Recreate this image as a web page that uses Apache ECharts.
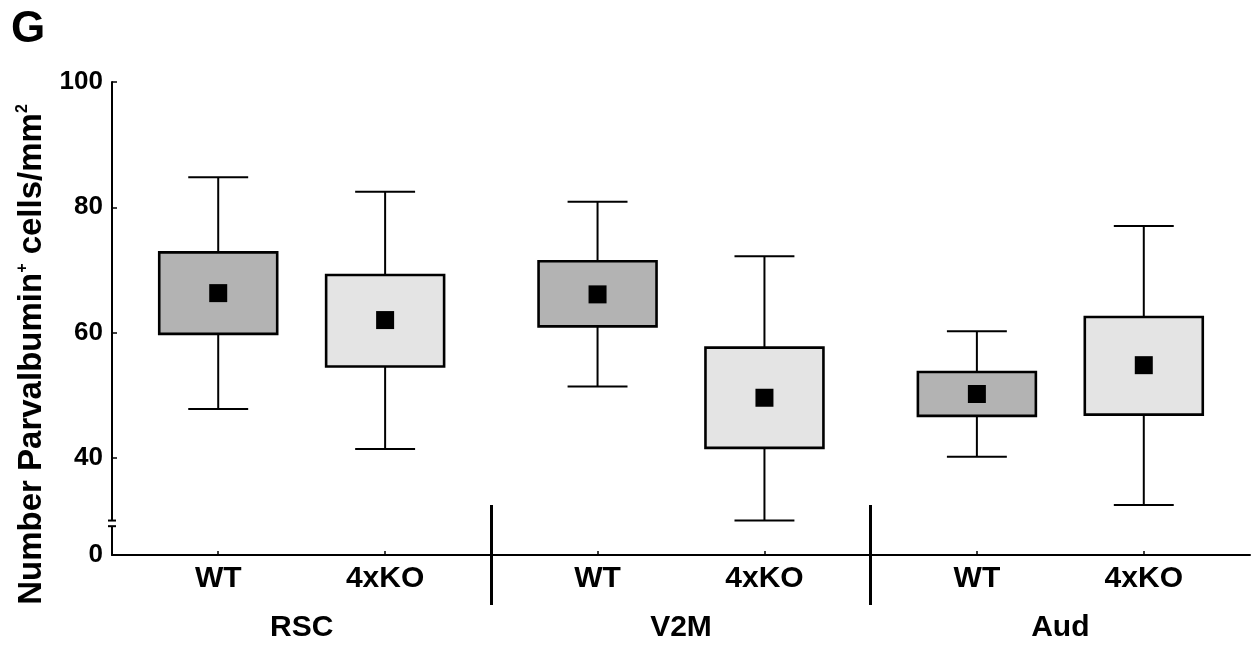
<!DOCTYPE html>
<html>
<head>
<meta charset="utf-8">
<script src="https://cdn.jsdelivr.net/npm/echarts@6/dist/echarts.min.js"></script>
<style>
  html, body { margin: 0; padding: 0; background: #fff; }
  #chart { width: 1252px; height: 645px; }
</style>
</head>
<body>
<div id="chart"></div>
<script>
// regions on the x axis, two genotypes each
const regions = ['RSC', 'V2M', 'Aud']
const genotypes = ['WT', '4xKO']

// box stats: whisker low, box low, mean, box high, whisker high
const wtMin = [47.8, 51.4, 40.2]
const wtLow = [59.8, 61.0, 46.7]
const wtMean = [66.3, 66.1, 50.2]
const wtHigh = [72.8, 71.4, 53.7]
const wtMax = [84.8, 80.9, 60.2]

const koMin = [41.4, 30.0, 32.5]
const koLow = [54.6, 41.6, 46.9]
const koMean = [62.0, 49.6, 54.8]
const koHigh = [69.2, 57.6, 62.5]
const koMax = [82.5, 72.2, 77.0]

// y axis: truncated, bottom of the axis is labelled 0
const yTicks = [40, 60, 80, 100]
const yBottom = 24.5
const breakRange = [29.1, 30.0]

// where each genotype sits inside its region slot (slot = 1 unit wide)
const slotOffset = [0.28, 0.72]
const boxWidth = 0.311
const capWidth = 0.158
const meanSize = 18

const font = 'Liberation Sans, Arial, sans-serif'
const fills = ['#b3b3b3', '#e4e4e4']

const stats = [
  [wtMin, wtLow, wtMean, wtHigh, wtMax],
  [koMin, koLow, koMean, koHigh, koMax],
]

function seriesData(g) {
  const s = stats[g]
  return regions.map((r, i) => [i + slotOffset[g], s[0][i], s[1][i], s[2][i], s[3][i], s[4][i]])
}

function renderBox(fill) {
  return function (params, api) {
    const x = api.value(0)
    const lo = api.coord([x, api.value(1)])
    const q1 = api.coord([x, api.value(2)])
    const mean = api.coord([x, api.value(3)])
    const q3 = api.coord([x, api.value(4)])
    const hi = api.coord([x, api.value(5)])
    const bw = api.size([boxWidth, 0])[0]
    const cw = api.size([capWidth, 0])[0]
    const cx = lo[0]
    const whisker = { stroke: '#000', lineWidth: 2 }
    return {
      type: 'group',
      children: [
        { type: 'line', shape: { x1: cx, y1: hi[1], x2: cx, y2: q3[1] }, style: whisker },
        { type: 'line', shape: { x1: cx, y1: q1[1], x2: cx, y2: lo[1] }, style: whisker },
        { type: 'line', shape: { x1: cx - cw / 2, y1: hi[1], x2: cx + cw / 2, y2: hi[1] }, style: whisker },
        { type: 'line', shape: { x1: cx - cw / 2, y1: lo[1], x2: cx + cw / 2, y2: lo[1] }, style: whisker },
        {
          type: 'rect',
          shape: { x: cx - bw / 2, y: q3[1], width: bw, height: q1[1] - q3[1] },
          style: { fill: fill, stroke: '#000', lineWidth: 2.6 },
        },
        {
          type: 'rect',
          shape: { x: cx - meanSize / 2, y: mean[1] - meanSize / 2, width: meanSize, height: meanSize },
          style: { fill: '#000' },
        },
      ],
    }
  }
}

const labelPos = []
regions.forEach((r, i) => slotOffset.forEach((o) => labelPos.push(i + o)))
const dividers = regions.slice(1).map((r, i) => i + 1)
const regionPos = regions.map((r, i) => i + 0.5)

const chart = echarts.init(document.getElementById('chart'), null, { renderer: 'canvas' })

const baseX = {
  type: 'value',
  min: 0,
  max: regions.length,
  position: 'bottom',
  splitLine: { show: false },
}

const option = {
  animation: false,
  title: {
    text: 'G',
    left: 6,
    top: 3,
    textStyle: { fontFamily: font, fontSize: 44, fontWeight: 'bold', color: '#000' },
  },
  grid: { left: 112, right: 2, top: 82, bottom: 90 },
  xAxis: [
    {
      ...baseX,
      axisLine: { lineStyle: { color: '#000', width: 2 } },
      axisTick: { inside: true, length: 4, customValues: labelPos, lineStyle: { color: '#000', width: 1.5 } },
      axisLabel: {
        customValues: labelPos,
        formatter: (v) => genotypes[v - Math.floor(v) > 0.5 ? 1 : 0],
        margin: 9,
        fontFamily: font,
        fontSize: 30,
        fontWeight: 'bold',
        color: '#000',
      },
    },
    {
      ...baseX,
      axisLine: { show: false },
      axisTick: { inside: true, length: 50, customValues: dividers, lineStyle: { color: '#000', width: 3 } },
      axisLabel: {
        customValues: regionPos,
        formatter: (v) => regions[Math.floor(v)],
        margin: 58,
        fontFamily: font,
        fontSize: 30,
        fontWeight: 'bold',
        color: '#000',
      },
    },
    {
      ...baseX,
      axisLine: { show: false },
      axisTick: { inside: false, length: 50, customValues: dividers, lineStyle: { color: '#000', width: 3 } },
      axisLabel: { show: false },
    },
  ],
  yAxis: {
    type: 'value',
    min: yBottom,
    max: 100,
    splitLine: { show: false },
    axisLine: { show: true, lineStyle: { color: '#000', width: 2 } },
    axisTick: { inside: true, length: 5, customValues: yTicks, lineStyle: { color: '#000', width: 1.5 } },
    axisLabel: {
      customValues: [yBottom].concat(yTicks),
      formatter: (v) => (v < breakRange[0] ? '0' : String(v)),
      margin: 9,
      fontFamily: font,
      fontSize: 26,
      fontWeight: 'bold',
      color: '#000',
    },
    name: '{t|Number Parvalbumin}{s|+}{t| cells/mm}{s|2}',
    nameLocation: 'middle',
    nameGap: 58,
    nameTextStyle: {
      padding: [0, 72, 0, 0],
      rich: {
        t: { fontFamily: font, fontSize: 33, fontWeight: 'bold', color: '#000', lineHeight: 36 },
        s: { fontFamily: font, fontSize: 16, fontWeight: 'bold', color: '#000', verticalAlign: 'top', lineHeight: 36 },
      },
    },
  },
  series: genotypes.map((g, gi) => ({
    name: g,
    type: 'custom',
    renderItem: renderBox(fills[gi]),
    encode: { x: 0, y: [1, 2, 3, 4, 5] },
    data: seriesData(gi),
    z: 3,
  })),
}

chart.setOption(option)

// axis break marks on the y axis
const ax = chart.convertToPixel({ xAxisIndex: 0 }, 0)
const yTop = chart.convertToPixel({ yAxisIndex: 0 }, breakRange[1])
const yBot = chart.convertToPixel({ yAxisIndex: 0 }, breakRange[0])
chart.setOption({
  graphic: [
    { type: 'rect', z: 100, shape: { x: ax - 3, y: yTop, width: 6, height: yBot - yTop }, style: { fill: '#fff' } },
    { type: 'line', z: 101, shape: { x1: ax - 4, y1: yTop, x2: ax + 4, y2: yTop }, style: { stroke: '#000', lineWidth: 2 } },
    { type: 'line', z: 101, shape: { x1: ax - 4, y1: yBot, x2: ax + 4, y2: yBot }, style: { stroke: '#000', lineWidth: 2 } },
  ],
})
</script>
</body>
</html>
